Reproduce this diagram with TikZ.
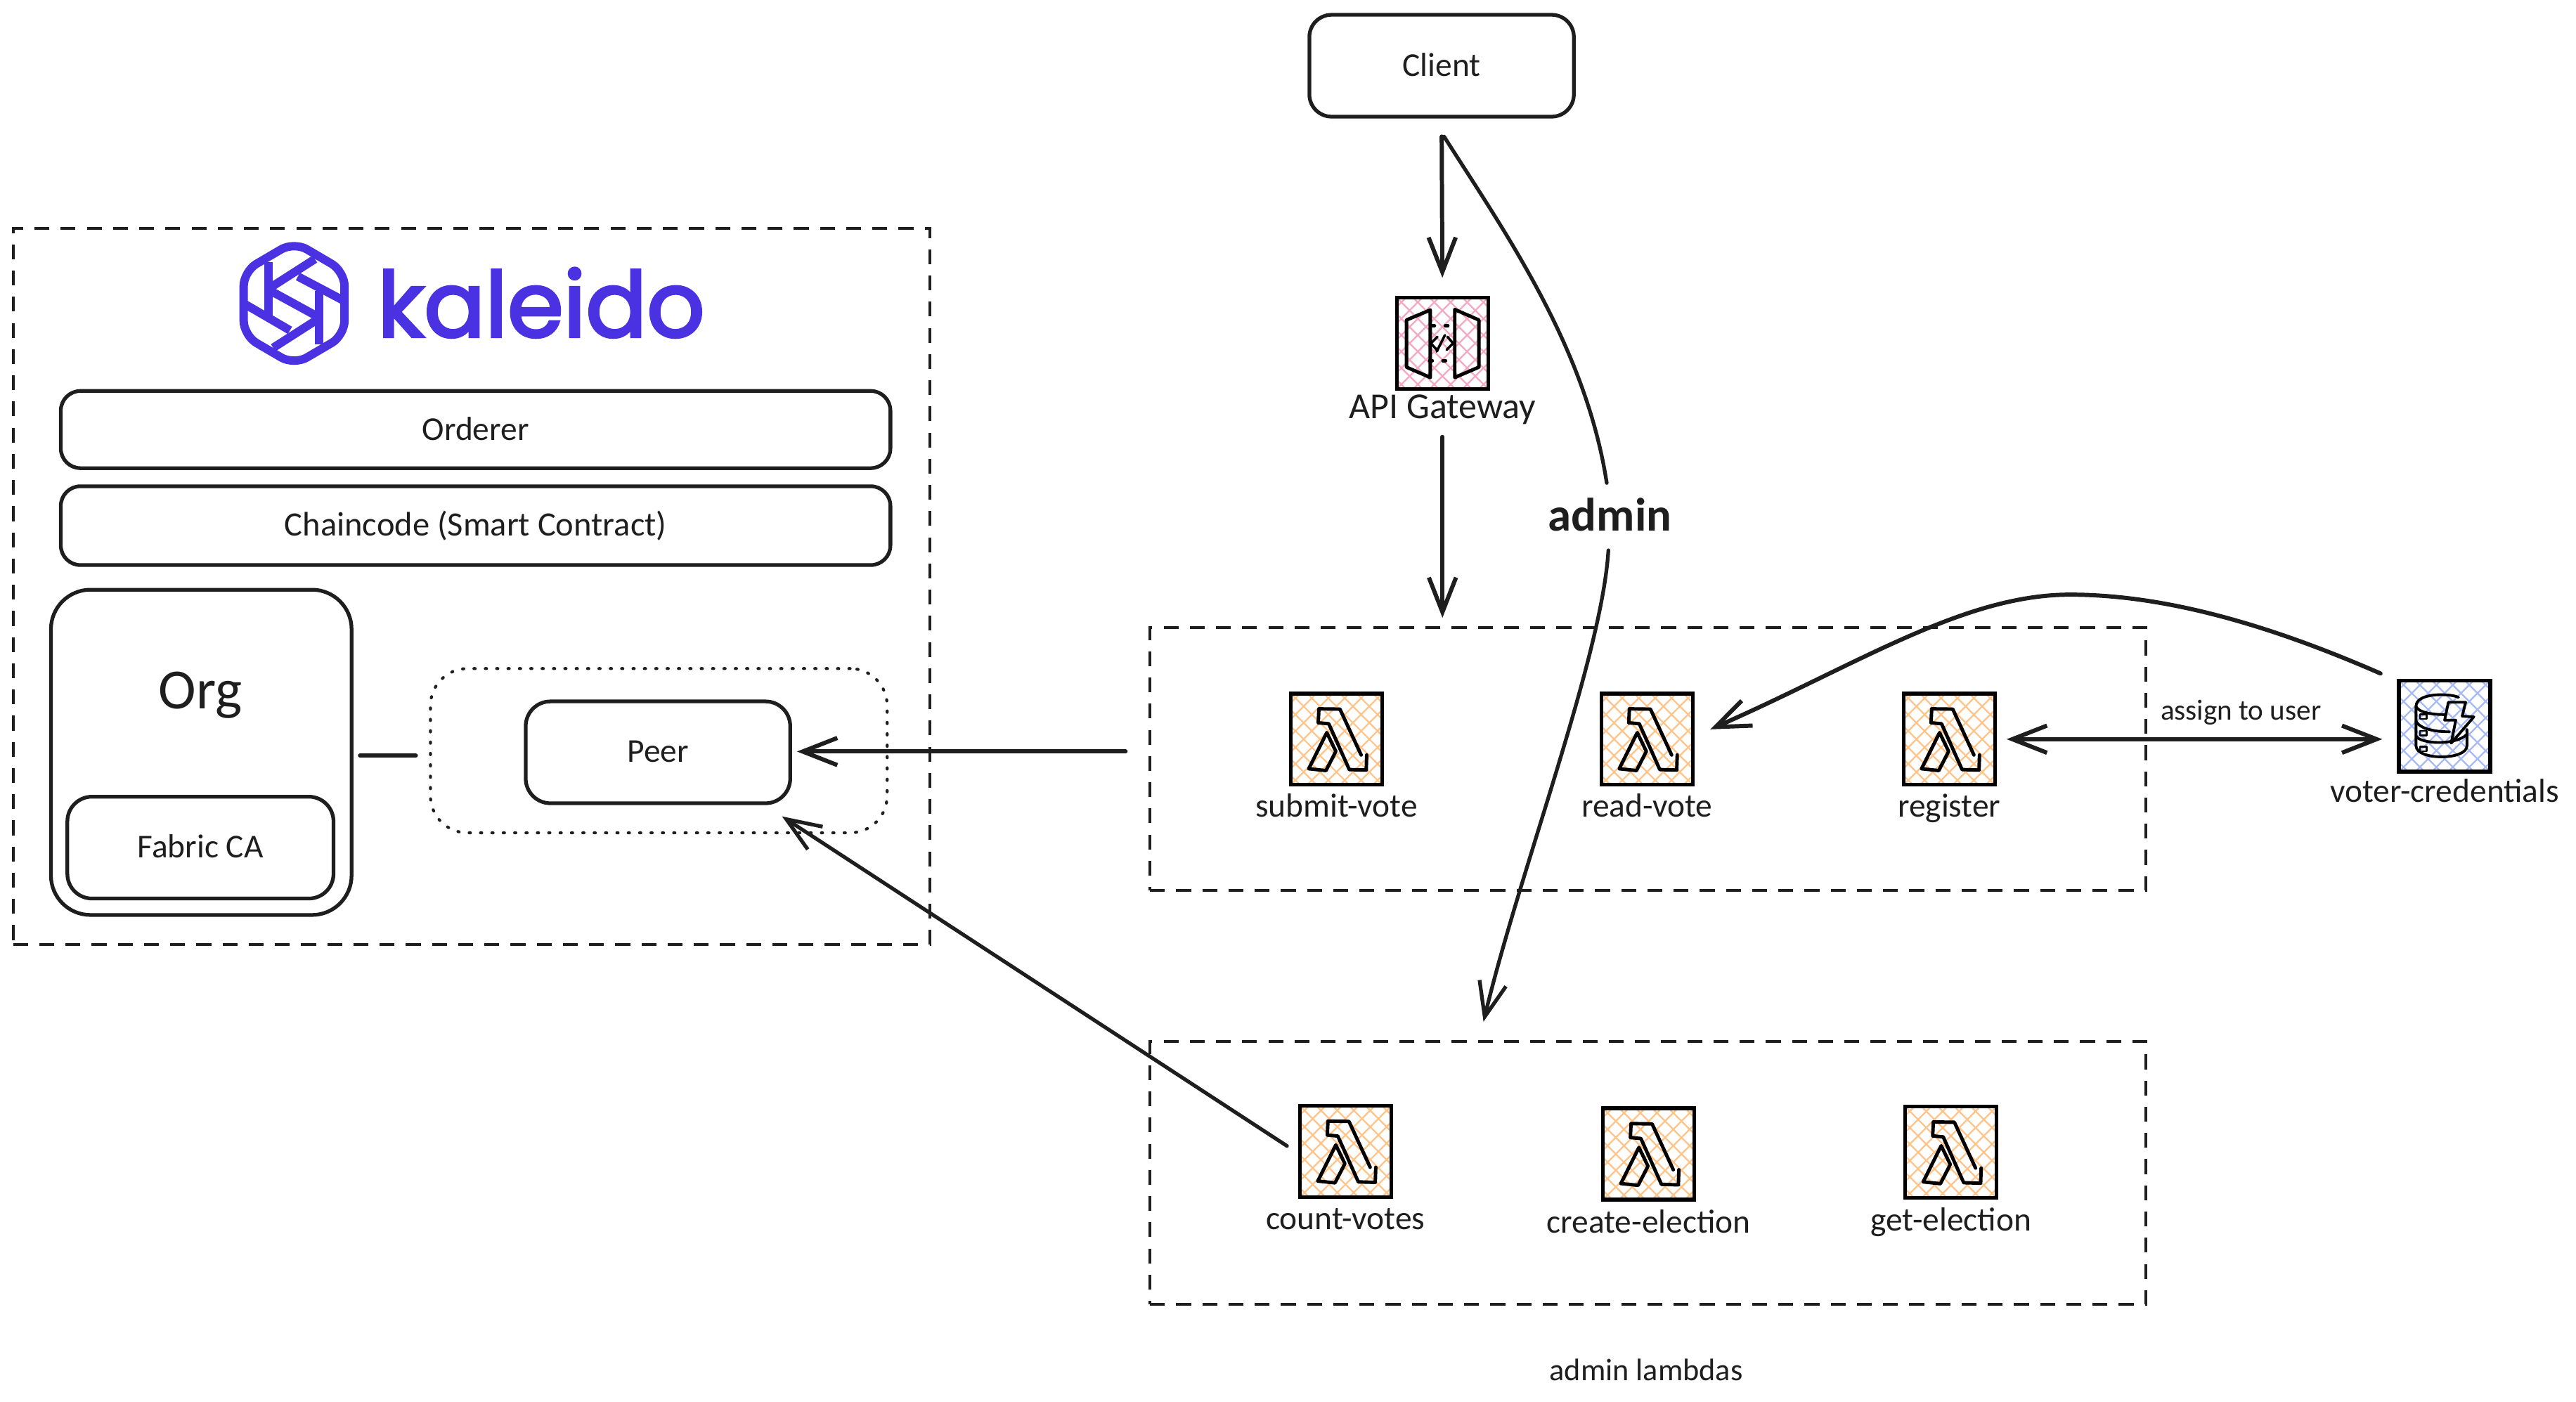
\documentclass[tikz,border=0pt]{standalone}
\usepackage{fontspec}
\setmainfont{Carlito}
\newfontfamily\logofont[FakeBold=3]{Poppins}
\usetikzlibrary{arrows.meta}
\definecolor{ink}{HTML}{1E1E1E}
\definecolor{kal}{HTML}{4A32E2}
\definecolor{hatchorange}{HTML}{FFC48A}
\definecolor{hatchpink}{HTML}{F4A8C4}
\definecolor{hatchblue}{HTML}{A8BAF4}
\newlength\ux
\setlength\ux{0.023374cm}
\newcommand\liftup[1]{\raisebox{0.8pt}{#1}}
\tikzset{
  rbox/.style={draw=ink,line width=1.5pt,align=center,inner sep=0pt,font=\fontsize{13.5}{15}\selectfont,text=ink},
  dashbox/.style={draw=ink,line width=1.2pt,dash pattern=on 6pt off 4.6pt,inner sep=0pt},
  iconbox/.style={draw=black,line width=1.5pt,minimum width=55.6*\ux,minimum height=55.6*\ux,inner sep=0pt},
  lbl/.style={font=\fontsize{13.5}{15}\selectfont,text=ink,inner sep=0pt,text height=10pt,text depth=1.4pt},
  glyph/.style={draw=black,line width=1.4pt,line join=round,line cap=round},
  hatchline/.style={line width=0.65pt},
  arr/.style={draw=ink,line width=1.7pt,line cap=round,-{Straight Barb[length=14pt,width=11pt]}},
  plainline/.style={draw=ink,line width=1.7pt,line cap=round},
  logoline/.style={draw=kal,line width=3.4pt,line join=round,line cap=butt},
}
\newcommand\hatched[3]{%
  \begin{scope}
    \clip ({#1-27},{#2-27}) rectangle ({#1+27},{#2+27});
    \foreach \d in {-70,-60,...,70}{
      \draw[#3,hatchline] ({#1+\d-40},{#2-40}) -- ({#1+\d+40},{#2+40});
      \draw[#3,hatchline] ({#1+\d-40},{#2+40}) -- ({#1+\d+40},{#2-40});
    }
  \end{scope}}
\newcommand\lambdaicon[5]{% name, cx, cy, label centre y, label
  \hatched{#2}{#3}{hatchorange}
  \node[iconbox] (#1) at (#2,#3) {};
  \begin{scope}[shift={(#2,#3)}]
    \draw[glyph] (15,9.6) -- (2.1,-18.3) -- (-10.7,-18.5) -- (-11.1,-10) -- (-4.7,-9.4) -- (7.8,18.5) -- (18.1,18.8) -- (18.4,9.6);
    \draw[glyph] (-5.9,-4) -- (-0.4,7.4) -- (-6.4,19.1) -- (-16.9,18) -- cycle;
  \end{scope}
  \node[lbl] (#1label) at (#2,#4) {#5};}
\begin{document}
\begin{tikzpicture}[x=0.023374cm,y=-0.023374cm]
\useasboundingbox (0,0) rectangle (1568,853.5);

% Kaleido organisation
\node[dashbox,minimum width=558*\ux,minimum height=436*\ux] (kaleido) at (287,357) {};
\begin{scope}[shift={(179,184.7)}]
  \draw[logoline,rounded corners=6pt] (0,-37.5) -- (30.7,-19.5) -- (30.7,19.5) -- (0,37.5) -- (-30.7,19.5) -- (-30.7,-19.5) -- cycle;
  \draw[logoline] (-15.4,-25) -- (-15.4,7.8);
  \draw[logoline] (-15.4,-9) -- (12.7,-27);
  \draw[logoline] (2.3,-16.4) -- (30.7,-1.4);
  \draw[logoline] (15.4,-7.4) -- (15.4,25);
  \draw[logoline] (-13.3,-7.1) -- (15.4,8.6);
  \draw[logoline] (15.4,9) -- (-12.7,27);
  \draw[logoline] (-30.7,0) -- (-2.5,16.4);
\end{scope}
\node[anchor=base west,inner sep=0pt,text=kal,font=\logofont\fontsize{36.6}{37}\selectfont] (logotext) at (229.5,205) {kaleido};

\node[rbox,rounded corners=8pt,minimum width=505*\ux,minimum height=47*\ux] (orderer) at (289.5,261.5) {\liftup{Orderer}};
\node[rbox,rounded corners=8pt,minimum width=505*\ux,minimum height=48*\ux,font=\fontsize{13.8}{15}\selectfont] (chaincode) at (289.5,320) {\liftup{Chaincode (Smart Contract)}};
\node[rbox,rounded corners=16pt,minimum width=183*\ux,minimum height=198*\ux] (org) at (122.5,458) {};
\node[lbl,font=\fontsize{23}{25}\selectfont,text height=16pt,text depth=2pt] (orglabel) at (122,421) {Org};
\node[rbox,rounded corners=10pt,minimum width=162*\ux,minimum height=62*\ux] (fabric) at (122,516) {\raisebox{1.2pt}{Fabric CA}};
\node[draw=ink,line width=1.2pt,line cap=round,dash pattern=on 0.5pt off 4.1pt,rounded corners=15pt,minimum width=278*\ux,minimum height=100*\ux,inner sep=0pt] (peergroup) at (401,457) {};
\node[rbox,rounded corners=10pt,minimum width=161*\ux,minimum height=62*\ux] (peer) at (400.5,458) {\liftup{Peer}};
\draw[plainline,shorten <=4*\ux,shorten >=8*\ux] (org.east |- 0,460) -- (peergroup.west |- 0,460);

% Client and API gateway
\node[rbox,rounded corners=9pt,minimum width=161*\ux,minimum height=62*\ux] (client) at (877.5,40) {\liftup{Client}};
\hatched{878}{209}{hatchpink}
\node[iconbox] (gateway) at (878,209) {};
\begin{scope}[shift={(878,209)}]
  \draw[glyph] (-7.4,-20.3) -- (-21.9,-14.2) -- (-21.9,14.5) -- (-7.4,20.8) -- cycle;
  \draw[glyph] (7.5,-20.6) -- (22.2,-14.2) -- (22.2,14.5) -- (7.5,20.8) -- cycle;
  \foreach \p/\q in {-5.7/-10.7,2.5/-10.7,-7/10.5,1.1/10.5}{
    \draw[glyph] (\p-0.8,\q) -- (\p+0.8,\q);
  }
  \draw[glyph,line width=1pt] (-3,-4) -- (-7,0) -- (-3,4.5);
  \draw[glyph,line width=1pt] (3,-4) -- (6.5,0) -- (2.5,4);
  \draw[glyph,line width=1pt] (1.5,-5) -- (-3.5,5);
\end{scope}
\node[lbl,font=\fontsize{14.8}{16}\selectfont] (gatewaylabel) at (878,248.5) {API Gateway};

% Lambda groups
\node[dashbox,minimum width=606*\ux,minimum height=160*\ux] (votegroup) at (1003,462) {};
\node[dashbox,minimum width=606*\ux,minimum height=160*\ux] (admingroup) at (1003,714) {};
\node[lbl,font=\fontsize{12.6}{14}\selectfont] (adminlambdas) at (1002,834) {admin lambdas};

\lambdaicon{submit}{813.5}{450}{491}{submit-vote}
\lambdaicon{read}{1002.5}{450}{491}{read-vote}
\lambdaicon{register}{1186.5}{450}{491}{register}
\lambdaicon{count}{819}{701}{742}{count-votes}
\lambdaicon{create}{1003.5}{702.5}{744}{create-election}
\lambdaicon{get}{1187.5}{701.5}{743}{get-election}

% Voter credentials table
\hatched{1488}{442}{hatchblue}
\node[iconbox] (voter) at (1488,442) {};
\begin{scope}[shift={(1488,442)},glyph/.append style={line width=1.1pt}]
  \draw[glyph] (8.5,-17.5) .. controls (3,-20) and (-17.4,-20.5) .. (-17.4,-12) -- (-17.4,12) .. controls (-17.4,21) and (13.6,21) .. (13.6,12) -- (13.6,2);
  \draw[glyph] (-17.4,-12) .. controls (-16,-8) and (-6,-6.8) .. (1,-7);
  \draw[glyph] (-17.4,-3) .. controls (-15,2) and (-5,3.5) .. (3,3.5);
  \draw[glyph] (-17.4,6) .. controls (-15,11) and (7,12) .. (13.6,5);
  \foreach \q in {-5.7,4.4,14}{
    \draw[glyph,line width=0.7pt] (-15,\q-1.4) rectangle (-11,\q+1.4);
  }
  \draw[glyph] (2.3,-14.5) -- (12.8,-14.5) -- (10.7,-6) -- (17.8,-5.6) -- (4,10.4) -- (6.8,-3.6) -- (0,-3.6) -- cycle;
\end{scope}
\node[lbl] (voterlabel) at (1488,482) {voter-credentials};

% Connectors
\node[lbl,font=\fontsize{19}{21}\selectfont\bfseries,text height=12pt,text depth=0pt] (adminlabel) at (980,314) {admin};
\node[lbl,font=\fontsize{11.7}{13}\selectfont,text height=7pt,text depth=1pt] (assignlabel) at (1364,434) {assign to user};
\coordinate (admintarget) at (903,622);
\coordinate (curvein) at (978,294);
\coordinate (curveout) at (979,335);
\coordinate (peertip) at (476,497);
\coordinate (voterstart) at (1449,410);
\coordinate (crest) at (1260,362);
\coordinate (readtip) at (1041,444);
\draw[arr,shorten <=11*\ux,shorten >=11*\ux] (client.south) -- (gateway.north);
\draw[plainline,line width=1.5pt] ([xshift=1.5*\ux,yshift=-11*\ux]client.south) .. controls (915,140) and (965,210) .. (curvein);
\draw[arr,line width=1.5pt] (curveout) .. controls (975,400) and (925,530) .. (admintarget);
\draw[arr,shorten <=8*\ux,shorten >=5*\ux] (gatewaylabel.south |- 0,258) -- (votegroup.north -| gatewaylabel.south);
\draw[arr,shorten <=14*\ux,shorten >=3*\ux] (votegroup.west |- 0,457.5) -- (peer.east |- 0,457.5);
\draw[arr,line width=1.5pt,shorten <=8*\ux] (count.west |- 0,702) -- (peertip);
\draw[arr] (voterstart) .. controls (1385,382) and (1320,362) .. (crest) .. controls (1195,362) and (1130,405) .. (readtip);
\draw[{Straight Barb[length=14pt,width=11pt]}-{Straight Barb[length=14pt,width=11pt]},draw=ink,line width=1.7pt,shorten <=6*\ux,shorten >=9*\ux] (register.east) -- (voter.west |- register.east);
\end{tikzpicture}
\end{document}
